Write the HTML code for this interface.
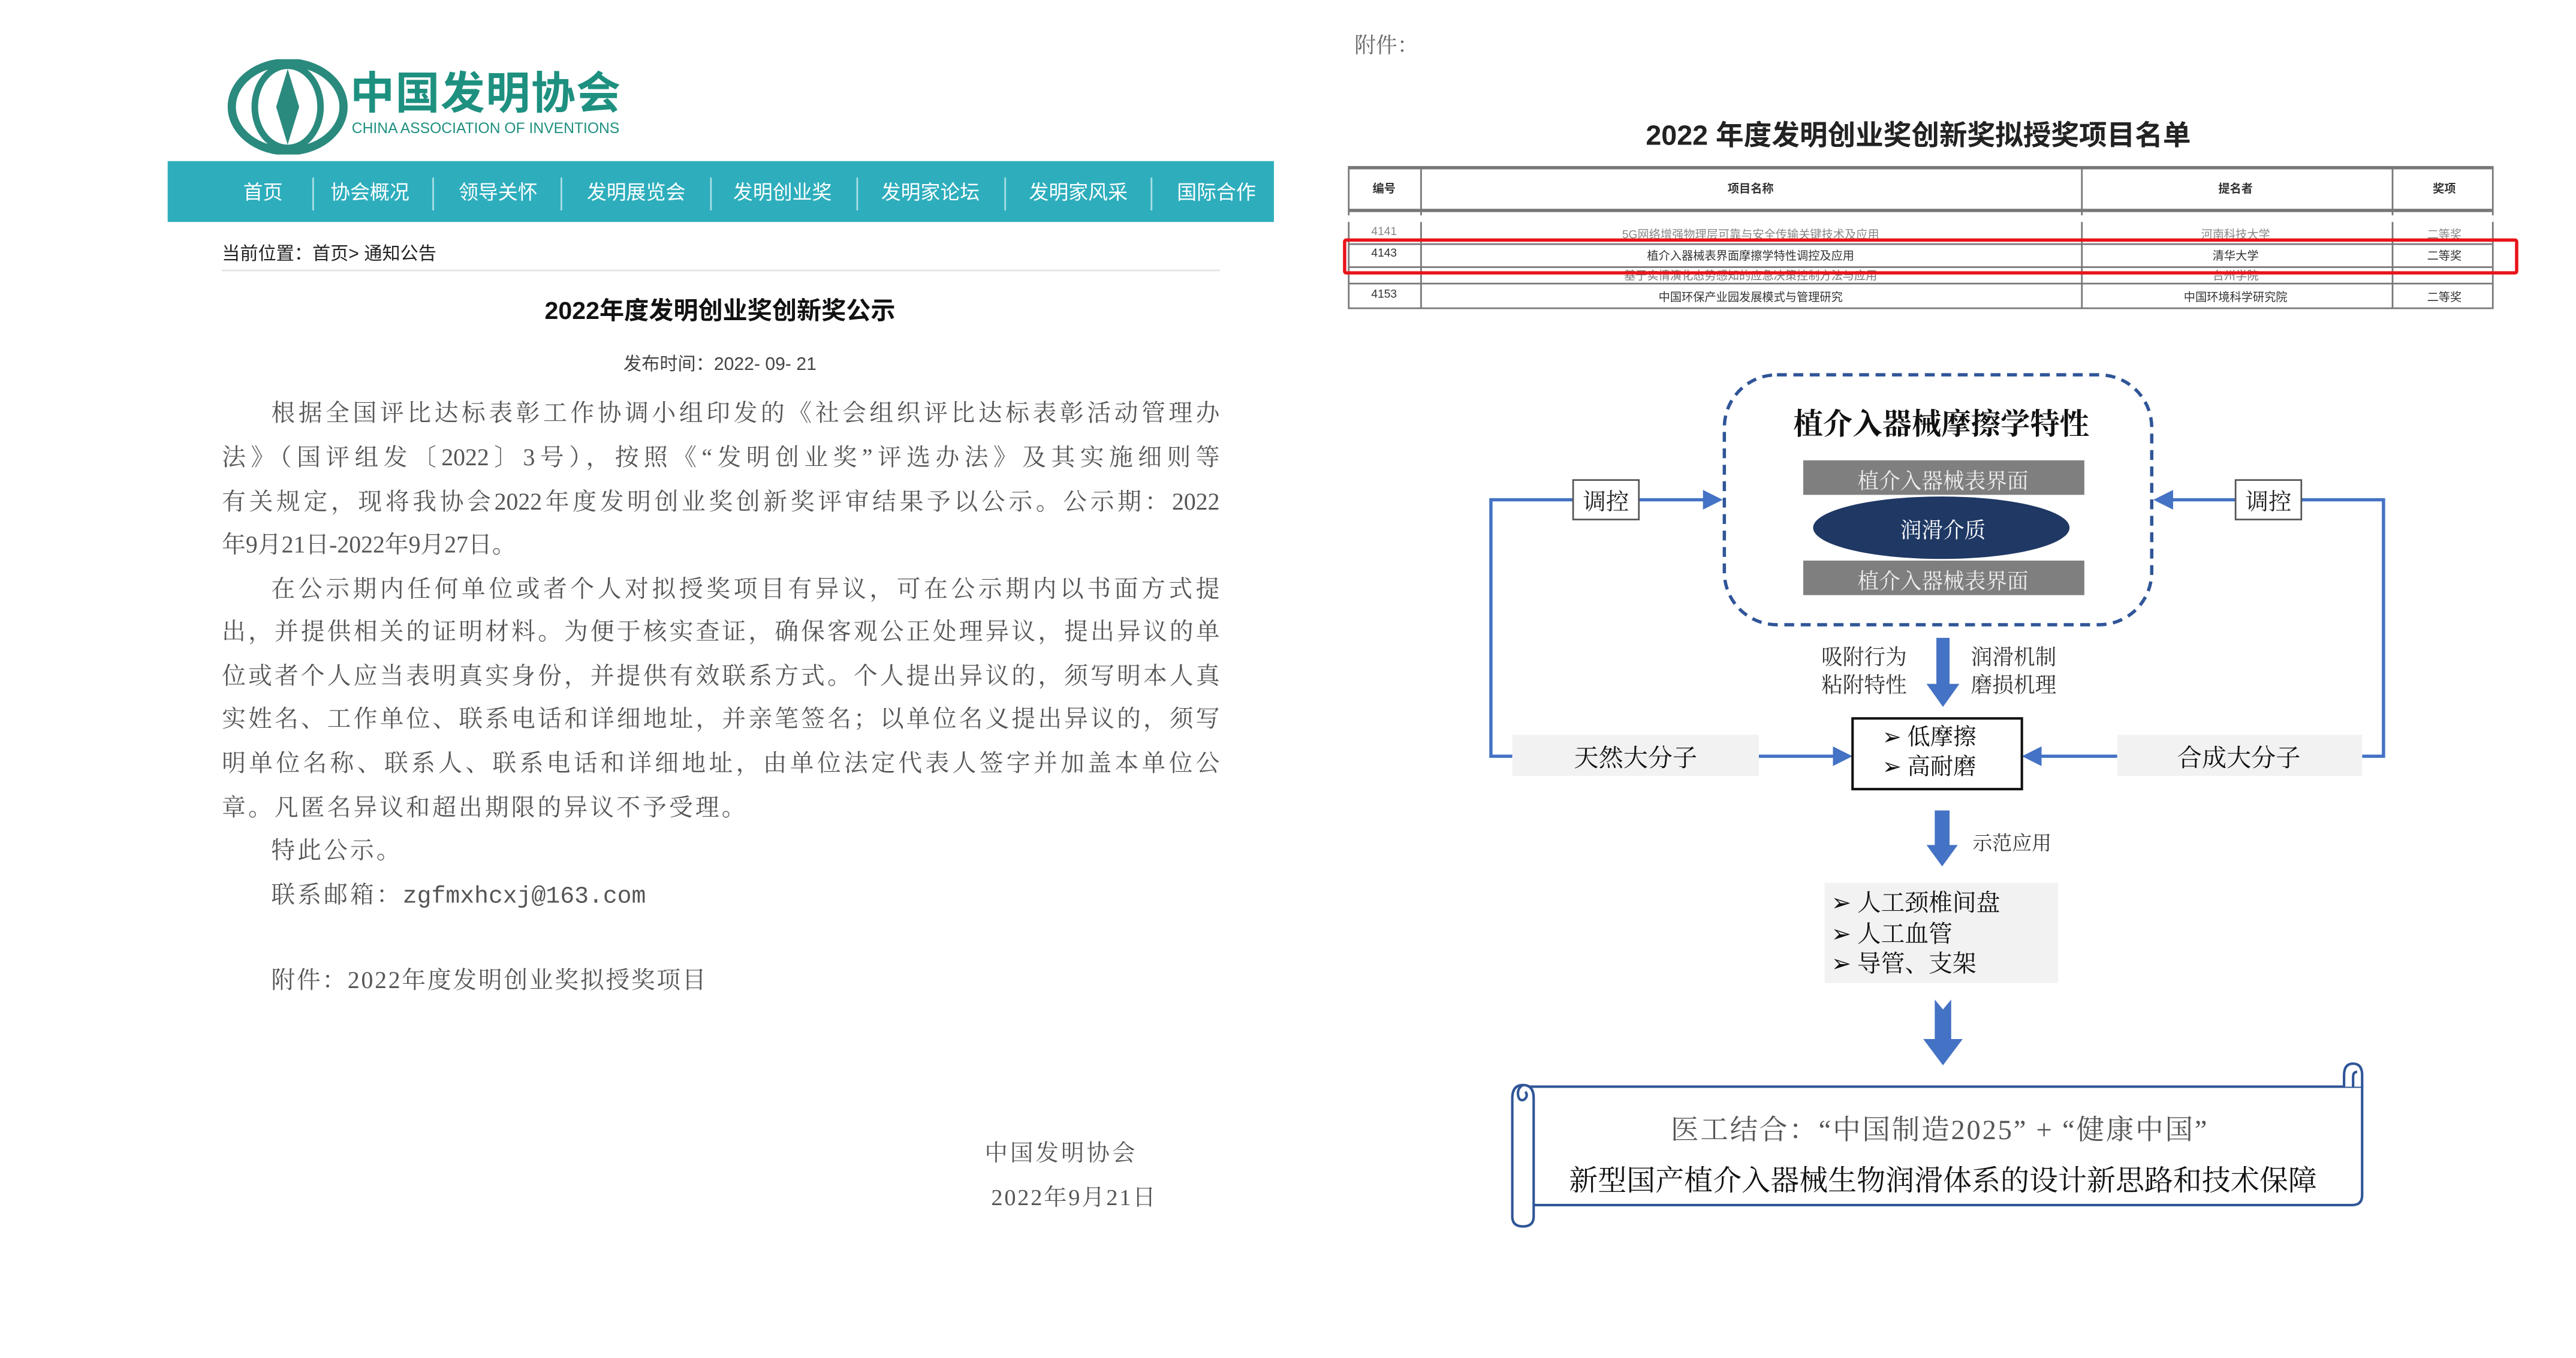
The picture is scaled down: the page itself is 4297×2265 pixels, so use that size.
<!DOCTYPE html>
<html><head><meta charset="utf-8">
<style>
html,body{margin:0;padding:0;background:#fff;width:4297px;height:2264px;overflow:hidden}
#w{position:absolute;left:0;top:0;width:1567px;height:826px;transform:scale(2.742);transform-origin:0 0;font-family:"Liberation Serif","Noto Serif CJK SC",serif}
.a{position:absolute;white-space:nowrap}
.s{font-family:"Liberation Sans","Noto Sans CJK SC",sans-serif}
.nav span{position:absolute;top:108px;color:#fff;font-size:12px;transform:translateX(-50%)}
.sep{position:absolute;top:108px;width:1px;height:20px;background:#fff;opacity:.6}
.p{position:absolute;left:135px;width:607px;font-size:14.5px;color:#555;text-align:justify;text-align-last:justify;white-space:nowrap;letter-spacing:0}
.t{position:absolute;font-size:7px;color:#333;transform:translateX(-50%)}
.hl{position:absolute;left:820px;width:696px;height:1px;background:#777}
</style></head><body><div id="w">
<svg class="a" style="left:138px;top:36px" width="76" height="58" viewBox="0 0 76 58">
<ellipse cx="37" cy="29" rx="34" ry="27" fill="none" stroke="#2a8a7e" stroke-width="5"/>
<ellipse cx="37" cy="29" rx="20" ry="25" fill="none" stroke="#2a8a7e" stroke-width="4"/>
<path d="M37 6 L44 29 L37 52 L30 29Z" fill="#2a8a7e"/>
</svg>
<div class="a s" style="left:213px;top:44px;font-size:27px;line-height:1;font-weight:bold;color:#1e9080;letter-spacing:0.5px">中国发明协会</div>
<div class="a s" style="left:214px;top:74px;font-size:9px;line-height:1;color:#1e9080">CHINA ASSOCIATION OF INVENTIONS</div>
<div class="a" style="left:102px;top:98px;width:673px;height:37px;background:#2eaebd"></div>
<div class="nav s">
<span style="left:160px">首页</span><span style="left:225px">协会概况</span><span style="left:303px">领导关怀</span><span style="left:387px">发明展览会</span><span style="left:476px">发明创业奖</span><span style="left:566px">发明家论坛</span><span style="left:656px">发明家风采</span><span style="left:740px">国际合作</span>
</div>
<div class="sep" style="left:190px"></div><div class="sep" style="left:263px"></div><div class="sep" style="left:341px"></div><div class="sep" style="left:432px"></div><div class="sep" style="left:521px"></div><div class="sep" style="left:611px"></div><div class="sep" style="left:700px"></div>
<div class="a s" style="left:135px;top:146px;font-size:11px;color:#222">当前位置：首页&gt; 通知公告</div>
<div class="a" style="left:135px;top:164px;width:607px;height:1px;background:#e4e4e4"></div>
<div class="a s" style="left:438px;top:178px;font-size:15px;font-weight:bold;color:#111;transform:translateX(-50%)">2022年度发明创业奖创新奖公示</div>
<div class="a s" style="left:438px;top:213px;font-size:11px;color:#444;transform:translateX(-50%)">发布时间：2022- 09- 21</div>
<div class="p" style="top:240px;left:165px;width:577px">根据全国评比达标表彰工作协调小组印发的《社会组织评比达标表彰活动管理办</div>
<div class="p" style="top:267px">法》（国评组发〔2022〕3号），按照《“发明创业奖”评选办法》及其实施细则等</div>
<div class="p" style="top:294px">有关规定，现将我协会2022年度发明创业奖创新奖评审结果予以公示。公示期：2022</div>
<div class="p" style="top:320px;text-align-last:left">年9月21日-2022年9月27日。</div>
<div class="p" style="top:347px;left:165px;width:577px">在公示期内任何单位或者个人对拟授奖项目有异议，可在公示期内以书面方式提</div>
<div class="p" style="top:373px">出，并提供相关的证明材料。为便于核实查证，确保客观公正处理异议，提出异议的单</div>
<div class="p" style="top:400px">位或者个人应当表明真实身份，并提供有效联系方式。个人提出异议的，须写明本人真</div>
<div class="p" style="top:426px">实姓名、工作单位、联系电话和详细地址，并亲笔签名；以单位名义提出异议的，须写</div>
<div class="p" style="top:453px">明单位名称、联系人、联系电话和详细地址，由单位法定代表人签字并加盖本单位公</div>
<div class="p" style="top:480px;text-align-last:left;letter-spacing:1.5px">章。凡匿名异议和超出期限的异议不予受理。</div>
<div class="p" style="top:506px;left:165px;text-align-last:left;letter-spacing:1.5px">特此公示。</div>
<div class="p" style="top:533px;left:165px;text-align-last:left;letter-spacing:1.5px">联系邮箱：<span style="font-family:'Liberation Mono',monospace;letter-spacing:0">zgfmxhcxj@163.com</span></div>
<div class="p" style="top:585px;left:165px;text-align-last:left;letter-spacing:1px">附件：2022年度发明创业奖拟授奖项目</div>
<div class="a" style="left:599px;top:691px;font-size:14px;color:#555;letter-spacing:1.5px">中国发明协会</div>
<div class="a" style="left:603px;top:718px;font-size:14px;color:#555;letter-spacing:1px">2022年9月21日</div>

<div class="a" style="left:824px;top:17px;font-size:13px;color:#666">附件：</div>
<div class="a s" style="left:1167px;top:68px;font-size:17px;font-weight:bold;color:#222;transform:translateX(-50%)">2022 年度发明创业奖创新奖拟授奖项目名单</div>
<div class="hl" style="top:101px;height:2px"></div>
<div class="hl" style="top:127px;height:2px"></div>
<div class="hl" style="top:146px"></div><div class="hl" style="top:148px"></div>
<div class="hl" style="top:162px"></div><div class="hl" style="top:172px"></div>
<div class="hl" style="top:187px"></div>
<div class="a" style="left:820px;top:101px;width:1px;height:87px;background:#777"></div>
<div class="a" style="left:864px;top:101px;width:1px;height:87px;background:#777"></div>
<div class="a" style="left:1266px;top:101px;width:1px;height:87px;background:#777"></div>
<div class="a" style="left:1455px;top:101px;width:1px;height:87px;background:#777"></div>
<div class="a" style="left:1516px;top:101px;width:1px;height:87px;background:#777"></div>
<div class="a" style="left:820px;top:131px;width:697px;height:4px;background:#fff"></div>
<div class="t s" style="left:842px;top:110px;font-weight:bold">编号</div>
<div class="t s" style="left:1065px;top:110px;font-weight:bold">项目名称</div>
<div class="t s" style="left:1360px;top:110px;font-weight:bold">提名者</div>
<div class="t s" style="left:1487px;top:110px;font-weight:bold">奖项</div>
<div class="t s" style="left:842px;top:138px;color:#888">4141</div>
<div class="t s" style="left:1065px;top:138px;color:#888">5G网络增强物理层可靠与安全传输关键技术及应用</div>
<div class="t s" style="left:1360px;top:138px;color:#888">河南科技大学</div>
<div class="t s" style="left:1487px;top:138px;color:#888">二等奖</div>
<div class="t s" style="left:842px;top:151px">4143</div>
<div class="t s" style="left:1065px;top:151px">植介入器械表界面摩擦学特性调控及应用</div>
<div class="t s" style="left:1360px;top:151px">清华大学</div>
<div class="t s" style="left:1487px;top:151px">二等奖</div>
<div class="t s" style="left:1065px;top:163px;color:#777">基于实情演化态势感知的应急决策控制方法与应用</div>
<div class="t s" style="left:1360px;top:163px;color:#777">台州学院</div>
<div class="t s" style="left:842px;top:176px">4153</div>
<div class="t s" style="left:1065px;top:176px">中国环保产业园发展模式与管理研究</div>
<div class="t s" style="left:1360px;top:176px">中国环境科学研究院</div>
<div class="t s" style="left:1487px;top:176px">二等奖</div>
<div class="a" style="left:817px;top:145px;width:711px;height:18px;border:2.5px solid #e8141a;border-radius:2px"></div>

<svg class="a" style="left:0;top:0" width="1567" height="826" viewBox="0 0 1567 826">
<defs><marker id="ah" markerWidth="6" markerHeight="6" refX="5" refY="3" orient="auto"><path d="M0 0L6 3L0 6Z" fill="#4472c4"/></marker></defs>
<rect x="1049" y="228" width="260" height="152" rx="32" fill="none" stroke="#2f5597" stroke-width="2" stroke-dasharray="6,4"/>
<rect x="1097" y="280" width="171" height="21" fill="#7f7f7f"/>
<rect x="1097" y="341" width="171" height="21" fill="#7f7f7f"/>
<ellipse cx="1181" cy="321" rx="78" ry="19" fill="#1f3864"/>
<g fill="none" stroke="#4472c4" stroke-width="2">
<path d="M957 304H907V460H920"/>
<path d="M997 304H1046" marker-end="url(#ah)"/>
<path d="M1400 304H1450V460H1437"/>
<path d="M1360 304H1312" marker-end="url(#ah)"/>
<path d="M1070 460H1125" marker-end="url(#ah)"/>
<path d="M1288 460H1232" marker-end="url(#ah)"/>
</g>
<path d="M1178 388H1186V416H1192L1182 430L1172 416H1178Z" fill="#4472c4"/>
<path d="M1177 493H1186V514H1191L1181.5 527L1172 514H1177Z" fill="#4472c4"/>
<path d="M1177 608L1182 614L1187 608V632H1194L1182 648L1170 632H1177Z" fill="#4472c4"/>
<rect x="957" y="292" width="40" height="24" fill="#fff" stroke="#555"/>
<rect x="1360" y="292" width="40" height="24" fill="#fff" stroke="#555"/>
<rect x="920" y="447" width="150" height="25" fill="#f2f2f2"/>
<rect x="1288" y="447" width="149" height="25" fill="#f2f2f2"/>
<rect x="1127" y="437" width="103" height="43" fill="#fff" stroke="#111" stroke-width="1.5"/>
<rect x="1110" y="537" width="142" height="61" fill="#f2f2f2"/>
<g fill="#fff" stroke="#2f5597" stroke-width="1.5">
<path d="M927 661H1437V727Q1437 733 1431 733H933Z"/>
<path d="M1426 661V654Q1426 647 1431.5 647Q1437 647 1437 654V661"/>
<path d="M1431.5 661V655Q1431.5 652 1434 652" fill="none"/>
<path d="M920 668Q920 660 926.5 660Q933 660 933 668V740Q933 746 926.5 746Q920 746 920 740Z"/>
<path d="M926.5 660Q923 662 923.5 666Q924 670 927 669Q930 667 928 664" fill="none"/>
</g>
</svg>
<div class="a" style="left:1181px;top:244px;font-size:18px;font-weight:bold;color:#111;transform:translateX(-50%)">植介入器械摩擦学特性</div>
<div class="a" style="left:1182px;top:282px;font-size:13px;color:#eee;transform:translateX(-50%)">植介入器械表界面</div>
<div class="a" style="left:1182px;top:343px;font-size:13px;color:#eee;transform:translateX(-50%)">植介入器械表界面</div>
<div class="a" style="left:1182px;top:312px;font-size:13px;color:#fff;transform:translateX(-50%)">润滑介质</div>
<div class="a" style="left:963px;top:295px;font-size:14px;color:#222">调控</div>
<div class="a" style="left:1366px;top:295px;font-size:14px;color:#222">调控</div>
<div class="a" style="left:1108px;top:391px;font-size:13px;color:#333;line-height:17px">吸附行为<br>粘附特性</div>
<div class="a" style="left:1199px;top:391px;font-size:13px;color:#333;line-height:17px">润滑机制<br>磨损机理</div>
<div class="a" style="left:995px;top:450px;font-size:15px;color:#111;transform:translateX(-50%)">天然大分子</div>
<div class="a" style="left:1362px;top:450px;font-size:15px;color:#111;transform:translateX(-50%)">合成大分子</div>
<div class="a" style="left:1145px;top:441px;font-size:14px;color:#111;line-height:18px">➢ 低摩擦<br>➢ 高耐磨</div>
<div class="a" style="left:1200px;top:504px;font-size:12px;color:#333">示范应用</div>
<div class="a" style="left:1114px;top:541px;font-size:14.5px;color:#111;line-height:18.5px">➢ 人工颈椎间盘<br>➢ 人工血管<br>➢ 导管、支架</div>
<div class="a" style="left:1180px;top:673px;font-size:17px;letter-spacing:1px;color:#555;transform:translateX(-50%)">医工结合：“中国制造2025” + “健康中国”</div>
<div class="a" style="left:1182px;top:705px;font-size:17.5px;color:#111;transform:translateX(-50%)">新型国产植介入器械生物润滑体系的设计新思路和技术保障</div>
</div></body></html>
